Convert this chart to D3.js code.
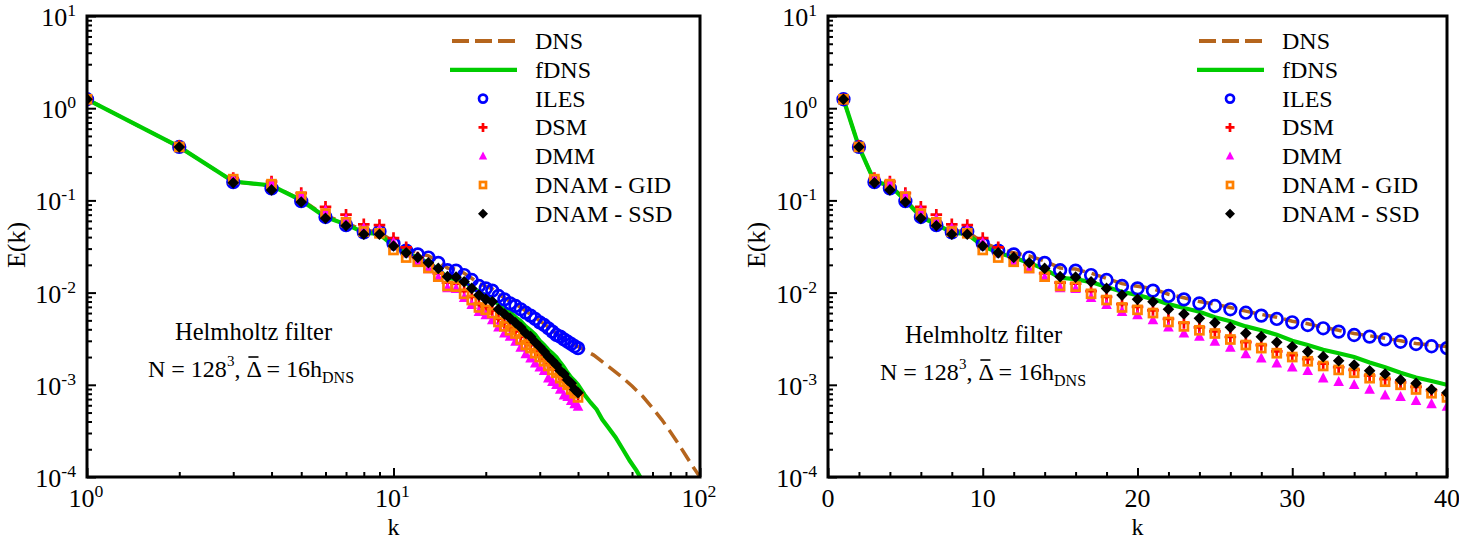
<!DOCTYPE html>
<html>
<head>
<meta charset="utf-8">
<script src="https://cdn.jsdelivr.net/npm/d3@7"></script>
<style>
  body { margin: 0; background: #fff; }
  svg { display: block; font-family: "Liberation Serif", "DejaVu Serif", serif; }
</style>
</head>
<body>
<div id="main"></div>
<script>
// wavenumbers of the LES models
var kLes = d3.range(1, 41);

// DNS spectrum (goes beyond the LES range)
var kDns = [1,2,3,4,5,6,7,8,9,10,11,12,13,14,15,16,17,18,19,20,21,22,23,24,25,26,27,28,29,30,
  31,32,33,34,35,36,37,38,39,40,45,50,55,60,65,70,75,80,85,90,95,100,105];
var eDns = [1.25,0.38,0.16,0.145,0.102,0.068,0.057,0.047,0.046,0.035,0.030,0.027,0.025,0.022,0.0185,
  0.018,0.0162,0.0143,0.0125,0.0117,0.011,0.0096,0.0088,0.0080,0.0075,0.0069,0.0063,0.0058,0.0054,0.0049,
  0.0046,0.0042,0.0039,0.0036,0.0034,0.0032,0.0030,0.0028,0.0027,0.0026,0.0021,0.0016,0.00125,0.00097,
  0.00075,0.00056,0.00042,0.00031,0.00023,0.00017,0.000128,0.0001,0.000078];

// filtered DNS
var kFdns = [1,2,3,4,5,6,7,8,9,10,11,12,13,14,15,16,17,18,19,20,21,22,23,24,25,26,27,28,29,30,
  31,32,33,34,35,36,37,38,39,40,42,44,46,48,50,53,56,59,62,65,68];
var eFdns = [1.25,0.38,0.16,0.145,0.1,0.066,0.055,0.045,0.043,0.032,0.027,0.024,0.021,0.018,0.0145,
  0.014,0.013,0.0115,0.0102,0.0094,0.0085,0.0075,0.0068,0.0062,0.0054,0.0049,0.0043,0.0039,0.0035,0.003,
  0.0027,0.0024,0.0022,0.002,0.00175,0.00155,0.00135,0.0012,0.0011,0.001,0.00078,0.00064,0.00054,0.00042,
  0.00035,0.00027,0.0002,0.00015,0.000118,0.00009,0.00006];

var eIles = [1.25,0.38,0.158,0.135,0.098,0.066,0.054,0.045,0.046,0.034,0.0285,0.026,0.024,0.021,0.0175,
  0.0173,0.0155,0.0137,0.0118,0.0111,0.0105,0.0092,0.00845,0.00764,0.00716,0.00659,0.00605,0.00562,0.00518,0.00476,
  0.00445,0.0041,0.00377,0.00347,0.00333,0.00311,0.00293,0.00277,0.00262,0.0025];

var eDsm = [1.25,0.39,0.175,0.16,0.12,0.085,0.07,0.055,0.054,0.039,0.031,0.024,0.02,0.0162,0.0128,
  0.0125,0.0104,0.009,0.0075,0.007,0.0064,0.0052,0.0047,0.0042,0.0038,0.0033,0.0029,0.0027,0.0023,0.0021,
  0.0019,0.0017,0.00155,0.00145,0.00126,0.00115,0.00106,0.00095,0.00087,0.00078];

var eDmm = [1.25,0.38,0.17,0.155,0.115,0.078,0.063,0.05,0.048,0.035,0.027,0.022,0.018,0.0145,0.0112,
  0.011,0.0088,0.0074,0.00621,0.00571,0.00505,0.0042,0.00362,0.00333,0.00294,0.00253,0.00216,0.00194,0.00171,0.00155,
  0.00142,0.00118,0.00108,0.001,0.00089,0.00077,0.00074,0.00067,0.00062,0.00058];

var eGid = [1.25,0.38,0.17,0.15,0.11,0.072,0.058,0.046,0.044,0.029,0.024,0.0216,0.0185,0.0149,0.0118,
  0.0116,0.0097,0.0083,0.0069,0.0065,0.006,0.0048,0.0043,0.0039,0.0036,0.0031,0.0027,0.0025,0.0022,0.002,
  0.0018,0.0016,0.00145,0.00135,0.00118,0.00108,0.001,0.00089,0.00081,0.00073];

var eSsd = [1.25,0.38,0.155,0.13,0.096,0.064,0.053,0.043,0.043,0.032,0.027,0.0241,0.0211,0.0183,0.0149,
  0.0147,0.0131,0.0111,0.0094,0.00845,0.00797,0.00659,0.00586,0.00526,0.00471,0.0042,0.00362,0.00333,0.00289,0.00259,
  0.00229,0.00202,0.00182,0.00164,0.00142,0.00131,0.00113,0.00104,0.00089,0.00082];

var legendNames = ["DNS", "fDNS", "ILES", "DSM", "DMM", "DNAM - GID", "DNAM - SSD"];
var yTickExp = [1, 0, -1, -2, -3, -4];
var xTickLog = [0, 1, 2];
var xTickLin = [0, 10, 20, 30, 40];

var W = 1459, H = 541;
var svg = d3.select("#main").append("svg").attr("width", W).attr("height", H);

// marker shapes
var shapes = {
  circle: function(g, r) { g.append("circle").attr("r", r).attr("fill", "none").attr("stroke", "#0000ff").attr("stroke-width", 2.7); },
  plus: function(g, a) { g.append("path").attr("d", "M" + (-a) + ",0H" + a + "M0," + (-a) + "V" + a).attr("stroke", "#ff0000").attr("stroke-width", 2.7).attr("fill", "none"); },
  tri: function(g, a) { g.append("path").attr("d", "M0," + (-a * 1.1) + "L" + a + "," + (a * 0.8) + "L" + (-a) + "," + (a * 0.8) + "Z").attr("fill", "#ff00ff"); },
  square: function(g, a) { g.append("rect").attr("x", -a).attr("y", -a).attr("width", 2 * a).attr("height", 2 * a).attr("fill", "none").attr("stroke", "#ff8000").attr("stroke-width", 2.7); },
  diamond: function(g, a) { g.append("path").attr("d", "M0," + (-a) + "L" + a + ",0L0," + a + "L" + (-a) + ",0Z").attr("fill", "#000"); }
};

var models = [
  { name: "ILES", vals: eIles, shape: "circle", size: 5.8, lsize: 4 },
  { name: "DSM", vals: eDsm, shape: "plus", size: 5.8, lsize: 4.5 },
  { name: "DMM", vals: eDmm, shape: "tri", size: 5.3, lsize: 4.2 },
  { name: "DNAM - GID", vals: eGid, shape: "square", size: 4, lsize: 3 },
  { name: "DNAM - SSD", vals: eSsd, shape: "diamond", size: 5.8, lsize: 5 }
];

function supText(sel, base, sup, size) {
  sel.append("tspan").text(base);
  sel.append("tspan").attr("dy", -10).attr("font-size", size * 0.68).text(sup);
}

function drawPanel(p) {
  var x = p.x, y = d3.scaleLog().domain([1e-4, 10]).range([p.bottom, p.top]);
  var g = svg.append("g");
  var id = "clip" + p.name;
  svg.append("clipPath").attr("id", id).append("rect")
    .attr("x", p.left).attr("y", p.top).attr("width", p.right - p.left).attr("height", p.bottom - p.top);

  var plot = g.append("g").attr("clip-path", "url(#" + id + ")");

  var line = d3.line().x(function(d) { return x(d[0]); }).y(function(d) { return y(d[1]); });

  plot.append("path").datum(d3.zip(kDns, eDns)).attr("d", line)
    .attr("fill", "none").attr("stroke", "#b5651d").attr("stroke-width", 3.5).attr("stroke-dasharray", "15,7");
  plot.append("path").datum(d3.zip(kFdns, eFdns)).attr("d", line)
    .attr("fill", "none").attr("stroke", "#00cc00").attr("stroke-width", 4.2);

  models.forEach(function(m) {
    kLes.forEach(function(k, i) {
      var mg = plot.append("g").attr("transform", "translate(" + x(k) + "," + y(m.vals[i]) + ")");
      shapes[m.shape](mg, m.size);
    });
  });

  // axes with inward ticks
  var yMinor = [];
  yTickExp.forEach(function(e) { if (e < 1) for (var j = 2; j < 10; j++) yMinor.push(j * Math.pow(10, e)); });
  g.append("g").attr("transform", "translate(" + p.left + ",0)")
    .call(d3.axisLeft(y).tickValues(yMinor).tickSize(-5).tickFormat(""));
  g.append("g").attr("transform", "translate(" + p.left + ",0)")
    .call(d3.axisLeft(y).tickValues(yTickExp.map(function(e) { return Math.pow(10, e); })).tickSize(-9).tickFormat(""));

  g.append("g").attr("transform", "translate(0," + p.bottom + ")")
    .call(d3.axisBottom(x).tickValues(p.xMinor).tickSize(-5).tickFormat(""));
  g.append("g").attr("transform", "translate(0," + p.bottom + ")")
    .call(d3.axisBottom(x).tickValues(p.xMajor).tickSize(-9).tickFormat(""));

  g.selectAll(".domain").remove();
  g.selectAll(".tick line").attr("stroke", "#000").attr("stroke-width", 2);

  g.append("rect").attr("x", p.left).attr("y", p.top).attr("width", p.right - p.left).attr("height", p.bottom - p.top)
    .attr("fill", "none").attr("stroke", "#000").attr("stroke-width", 3);

  // y tick labels
  yTickExp.forEach(function(e) {
    var t = g.append("text").attr("x", p.left - 11).attr("y", y(Math.pow(10, e)) + 10)
      .attr("text-anchor", "end").attr("font-size", 26);
    supText(t, "10", String(e), 26);
  });

  // x tick labels
  p.xLabels(g, x);

  g.append("text").attr("x", (p.left + p.right) / 2).attr("y", 535).attr("text-anchor", "middle")
    .attr("font-size", 24).text("k");
  g.append("text").attr("transform", "translate(" + p.ylabX + ",245) rotate(-90)").attr("text-anchor", "middle")
    .attr("font-size", 26).text("E(k)");

  // legend
  var lx = p.right - 250, tx = p.right - 165;
  legendNames.forEach(function(n, i) {
    var ly = 41 + i * 28.8;
    if (i === 0) {
      g.append("line").attr("x1", lx + 2).attr("x2", lx + 66).attr("y1", ly).attr("y2", ly)
        .attr("stroke", "#b5651d").attr("stroke-width", 4).attr("stroke-dasharray", "17,6");
    } else if (i === 1) {
      g.append("line").attr("x1", lx).attr("x2", lx + 67).attr("y1", ly).attr("y2", ly)
        .attr("stroke", "#00cc00").attr("stroke-width", 4.2);
    } else {
      var m = models[i - 2];
      shapes[m.shape](g.append("g").attr("transform", "translate(" + (lx + 33) + "," + ly + ")"), m.lsize);
    }
    g.append("text").attr("x", tx).attr("y", ly + 8).attr("font-size", 24).text(n);
  });

  // annotation
  g.append("text").attr("x", p.ax1).attr("y", p.ay).attr("font-size", 24.5).text("Helmholtz filter");
  var t2 = g.append("text").attr("x", p.ax2).attr("y", p.ay + 37).attr("font-size", 24);
  t2.append("tspan").text("N = 128");
  t2.append("tspan").attr("dy", -11).attr("font-size", 15).text("3");
  t2.append("tspan").attr("dy", 11).text(", \u0394 = 16h");
  t2.append("tspan").attr("dy", 6).attr("font-size", 16).text("DNS");
  // bar over the Delta
  var ext = t2.node().getExtentOfChar(10);
  g.append("line").attr("x1", ext.x + 2).attr("x2", ext.x + ext.width - 2)
    .attr("y1", p.ay + 37 - 20).attr("y2", p.ay + 37 - 20).attr("stroke", "#000").attr("stroke-width", 1.6);
}

drawPanel({
  name: "L", left: 87, right: 700, top: 16, bottom: 477,
  x: d3.scaleLog().domain([1, 100]).range([87, 700]),
  xMajor: [1, 10, 100],
  xMinor: [2, 3, 4, 5, 6, 7, 8, 9, 20, 30, 40, 50, 60, 70, 80, 90],
  xLabels: function(g, x) {
    xTickLog.forEach(function(e) {
      var t = g.append("text").attr("x", x(Math.pow(10, e)) - 1).attr("y", 507)
        .attr("text-anchor", "middle").attr("font-size", 26);
      supText(t, "10", String(e), 26);
    });
  },
  ylabX: 25, ax1: 175, ax2: 148, ay: 340
});

drawPanel({
  name: "R", left: 828, right: 1447, top: 16, bottom: 477,
  x: d3.scaleLinear().domain([0, 40]).range([828, 1447]),
  xMajor: xTickLin,
  xMinor: d3.range(2, 40, 2).filter(function(v) { return v % 10 !== 0; }),
  xLabels: function(g, x) {
    xTickLin.forEach(function(v) {
      g.append("text").attr("x", x(v)).attr("y", 507).attr("text-anchor", "middle")
        .attr("font-size", 26).text(v);
    });
  },
  ylabX: 765, ax1: 905, ax2: 880, ay: 343
});
</script>
</body>
</html>
